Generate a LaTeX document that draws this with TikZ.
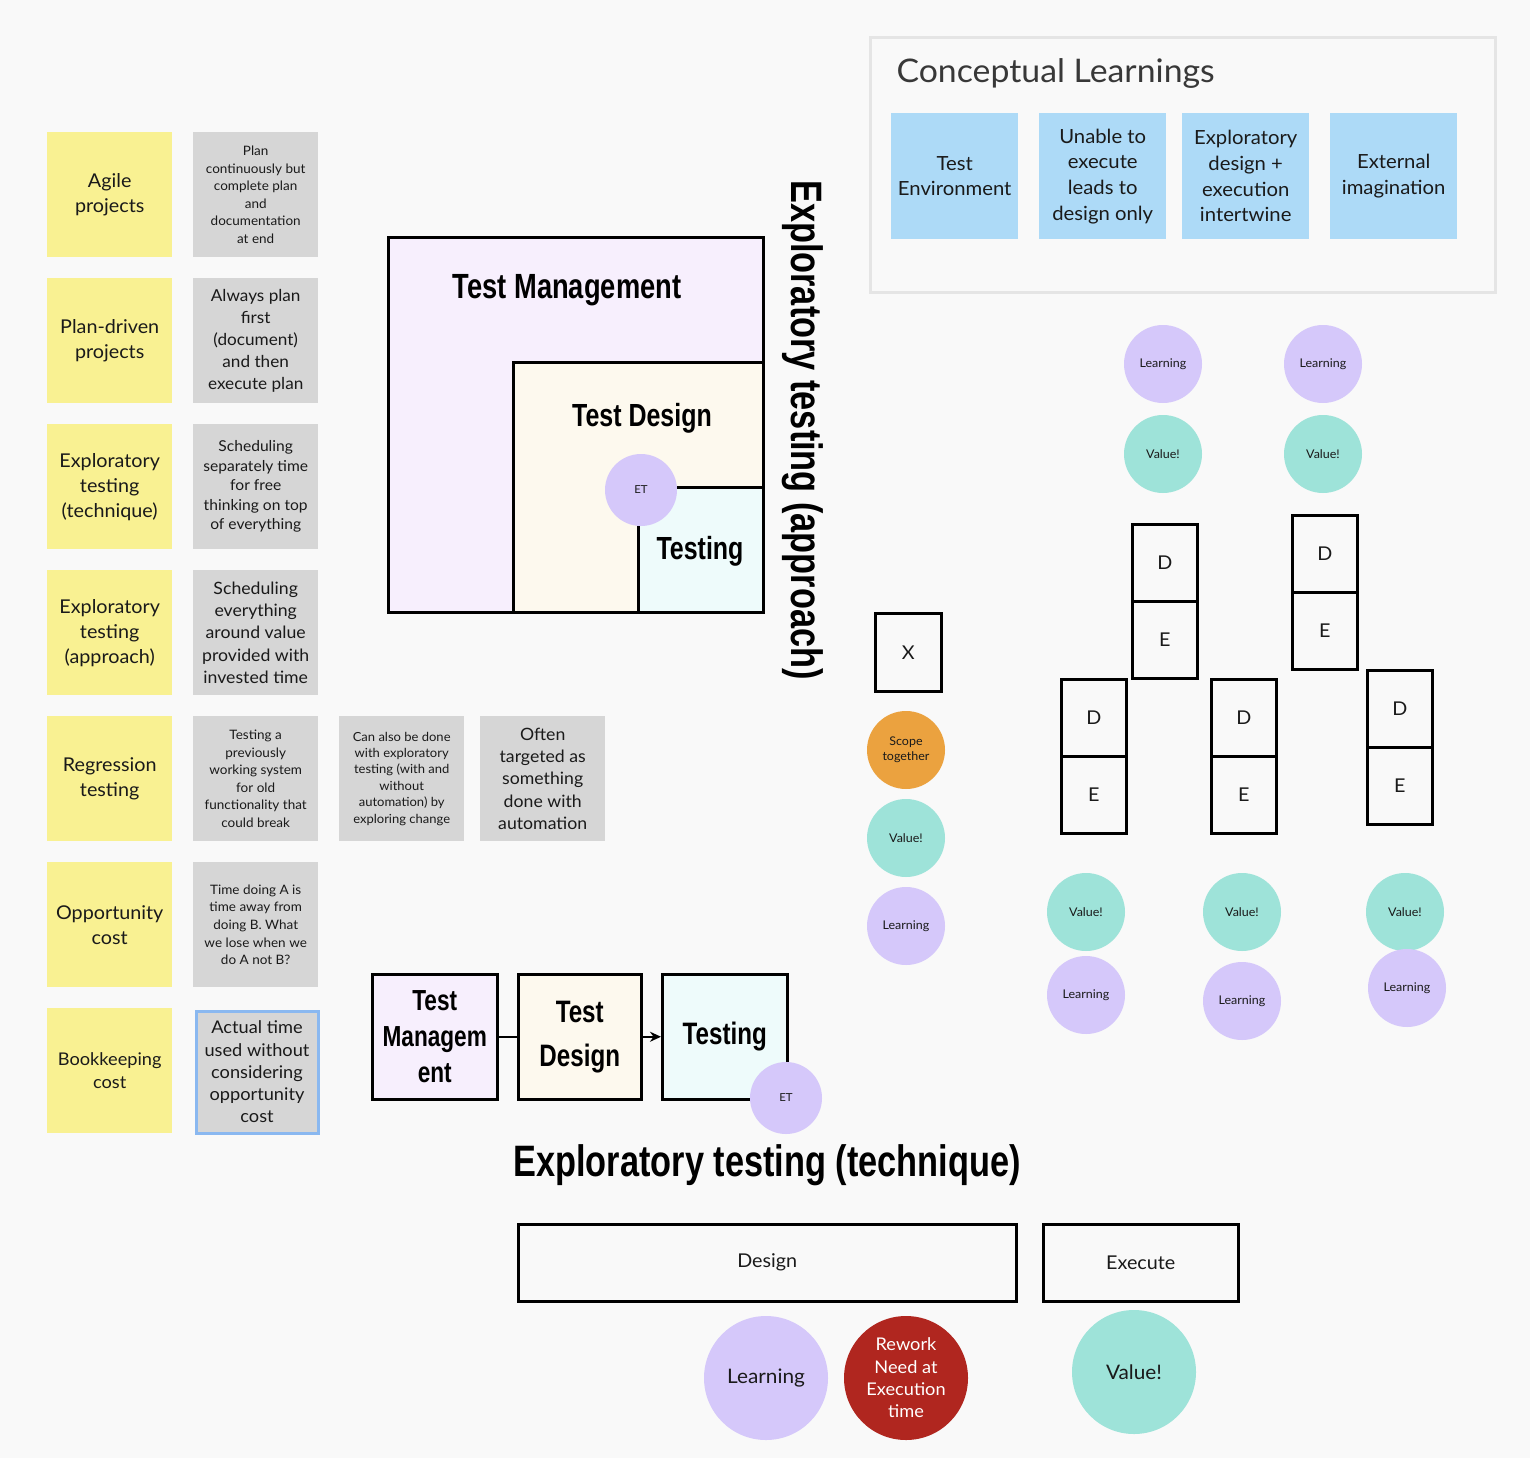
\documentclass[tikz,border=0pt]{standalone}
\usepackage{fontspec}
\setmainfont[FakeStretch=1.04]{Lato}
\newfontfamily\handfont[FakeStretch=0.78]{Liberation Sans}
\usetikzlibrary{arrows.meta}
\definecolor{bgc}{HTML}{F9F9F9}
\definecolor{yel}{HTML}{F9F192}
\definecolor{gry}{HTML}{D6D6D6}
\definecolor{blu}{HTML}{ADDAF7}
\definecolor{lav}{HTML}{D5C8FA}
\definecolor{tea}{HTML}{9EE3D9}
\definecolor{org}{HTML}{EBA23F}
\definecolor{redc}{HTML}{B0261F}
\definecolor{tmf}{HTML}{F7EFFD}
\definecolor{tdf}{HTML}{FDF9EE}
\definecolor{tsf}{HTML}{EEFBFB}
\definecolor{frm}{HTML}{E5E5E5}
\definecolor{selb}{HTML}{8AB8F0}
\definecolor{ink}{HTML}{1A1A1A}
\tikzset{
  sticky/.style={minimum width=125pt, minimum height=125pt, inner sep=0pt, align=center, anchor=north west, text=ink},
  yelnote/.style={sticky, fill=yel, font=\fontsize{19}{25}\selectfont},
  grynote/.style={sticky, fill=gry},
  blunote/.style={minimum width=127pt, minimum height=126pt, inner sep=0pt, align=center, anchor=north west, fill=blu, text=ink, font=\fontsize{19.5}{25.7}\selectfont},
  nest/.style={draw=black, line width=2.5pt, anchor=north west, inner sep=0pt},
  hand/.style 2 args={font=\handfont\bfseries\fontsize{#1}{#2}\selectfont, text=black, align=center},
  dot/.style={circle, minimum size=78pt, inner sep=0pt, align=center, text=ink, font=\fontsize{12}{15}\selectfont},
  lrn/.style={dot, fill=lav},
  val/.style={dot, fill=tea},
  bigdot/.style={circle, minimum size=124pt, inner sep=0pt, align=center, font=\fontsize{20}{22.5}\selectfont},
  debox/.style={draw=black, line width=2.5pt, minimum width=65pt, minimum height=77pt, inner sep=0pt, anchor=north west, font=\fontsize{19}{22}\selectfont, text=ink},
  plainbox/.style={draw=black, line width=2.5pt, inner sep=0pt, anchor=north west, font=\fontsize{19}{22}\selectfont, text=ink},
}
\begin{document}
\begin{tikzpicture}[x=1pt, y=-1pt]
\fill[bgc] (0,0) rectangle (1530,1458);
\useasboundingbox (0,0) rectangle (1530,1458);

% left column
\node[yelnote] (y1) at (47,132) {Agile\\projects};
\node[yelnote] (y2) at (47,278) {Plan-driven\\projects};
\node[yelnote] (y3) at (47,424) {Exploratory\\testing\\(technique)};
\node[yelnote] (y4) at (47,570) {Exploratory\\testing\\(approach)};
\node[yelnote] (y5) at (47,716) {Regression\\testing};
\node[yelnote] (y6) at (47,862) {Opportunity\\cost};
\node[yelnote, font=\fontsize{17.5}{22.5}\selectfont] (y7) at (47,1008) {Bookkeeping\\cost};

\node[grynote, font=\fontsize{13}{17.6}\selectfont] (g1) at (193,132) {Plan\\continuously but\\complete plan\\and\\documentation\\at end};
\node[grynote, font=\fontsize{16.5}{22}\selectfont] (g2) at (193,278) {Always plan\\first\\(document)\\and then\\execute plan};
\node[grynote, font=\fontsize{15}{19.5}\selectfont] (g3) at (193,424) {Scheduling\\separately time\\for free\\thinking on top\\of everything};
\node[grynote, font=\fontsize{17}{22.2}\selectfont] (g4) at (193,570) {Scheduling\\everything\\around value\\provided with\\invested time};
\node[grynote, font=\fontsize{13}{17.6}\selectfont] (g5) at (193,716) {Testing a\\previously\\working system\\for old\\functionality that\\could break};
\node[grynote, font=\fontsize{12.5}{16.4}\selectfont] (g5b) at (339,716) {Can also be done\\with exploratory\\testing (with and\\without\\automation) by\\exploring change};
\node[grynote, font=\fontsize{17}{22.2}\selectfont] (g5c) at (480,716) {Often\\targeted as\\something\\done with\\automation};
\node[grynote, font=\fontsize{13}{17.6}\selectfont] (g6) at (193,862) {Time doing A is\\time away from\\doing B. What\\we lose when we\\do A not B?};
\node[grynote, draw=selb, line width=3pt, minimum width=122pt, minimum height=122pt, font=\fontsize{17.5}{22.3}\selectfont] (g7) at (194.5,1009.5) {Actual time\\used without\\considering\\opportunity\\cost};

% nested boxes
\node[nest, fill=tmf, minimum width=375pt, minimum height=375pt] (tm) at (387,236) {};
\node[nest, fill=tdf, minimum width=250pt, minimum height=250pt] (td) at (512,361) {};
\node[nest, fill=tsf, minimum width=125pt, minimum height=125pt] (ts) at (637,486) {};
\node[hand={35}{40}] (tml) at (567,290) {Test Management};
\node[hand={32}{36}] (tdl) at (642,418) {Test Design};
\node[hand={32}{36}] (tsl) at (700,551) {Testing};
\node[dot, fill=lav, minimum size=72pt, font=\fontsize{11}{13}\selectfont] (et1) at (641,490) {ET};
\node[hand={44}{48}, rotate=-90] (vt) at (803,430) {Exploratory testing (approach)};

% conceptual learnings
\node[draw=frm, line width=3pt, fill=bgc, minimum width=625pt, minimum height=255pt, anchor=north west, inner sep=0pt] (cl) at (869,36) {};
\node[anchor=west, text=black!78, font=\fontsize{32.5}{36}\selectfont] (clt) at (893,73) {Conceptual Learnings};
\node[blunote] (b1) at (891,113) {Test\\Environment};
\node[blunote] (b2) at (1039,113) {Unable to\\execute\\leads to\\design only};
\node[blunote] (b3) at (1182,113) {Exploratory\\design +\\execution\\intertwine};
\node[blunote] (b4) at (1330,113) {External\\imagination};

% right circles top
\node[lrn] (l1) at (1163,364) {Learning};
\node[lrn] (l2) at (1323,364) {Learning};
\node[val] (v1) at (1163,454) {Value!};
\node[val] (v2) at (1323,454) {Value!};

% D/E columns
\node[debox] (da) at (1131,523) {D};
\node[debox] (ea) at (1131,600) {E};
\node[debox] (db) at (1291,514) {D};
\node[debox] (eb) at (1291,591) {E};
\node[debox] (dc) at (1060,678) {D};
\node[debox] (ec) at (1060,755) {E};
\node[debox] (dd) at (1210,678) {D};
\node[debox] (ed) at (1210,755) {E};
\node[debox] (de) at (1366,669) {D};
\node[debox] (ee) at (1366,746) {E};

% X column
\node[debox, minimum width=66pt, minimum height=78pt] (xb) at (874,612) {X};
\node[dot, fill=org] (sc) at (906,750) {Scope\\together};
\node[val] (v3) at (906,838) {Value!};
\node[lrn] (l3) at (906,926) {Learning};

% lower circles
\node[val] (v4) at (1086,912) {Value!};
\node[lrn] (l4) at (1086,995) {Learning};
\node[val] (v5) at (1242,912) {Value!};
\node[lrn] (l5) at (1242,1001) {Learning};
\node[val] (v6) at (1405,912) {Value!};
\node[lrn] (l6) at (1407,988) {Learning};

% bottom flow
\node[nest, fill=tmf, minimum width=125pt, minimum height=125pt] (btm) at (371,973) {};
\node[nest, fill=tdf, minimum width=123pt, minimum height=125pt] (btd) at (517,973) {};
\node[nest, fill=tsf, minimum width=125pt, minimum height=125pt] (bts) at (661,973) {};
\node[hand={29}{36}] (btml) at (btm.center) {Test\\Managem\\ent};
\node[hand={31}{44}] (btdl) at (btd.center) {Test\\Design};
\node[hand={31}{36}] (btsl) at (bts.center) {Testing};
\draw[line width=2.5pt] (btm.east) -- (btd.west);
\draw[line width=2.5pt, -{Stealth[length=11pt, width=10pt]}] (btd.east) -- (bts.west);
\node[dot, fill=lav, minimum size=72pt, font=\fontsize{11}{13}\selectfont] (et2) at (786,1098) {ET};

\node[hand={44}{50}] (ett) at (767,1165) {Exploratory testing (technique)};

\node[plainbox, minimum width=498pt, minimum height=77pt] (des) at (517,1223) {Design};
\node[plainbox, minimum width=195pt, minimum height=77pt] (exe) at (1042,1223) {Execute};
\node[bigdot, fill=lav, text=ink] (bl) at (766,1378) {Learning};
\node[bigdot, fill=redc, text=white, font=\fontsize{17.5}{22.3}\selectfont] (br) at (906,1378) {Rework\\Need at\\Execution\\time};
\node[bigdot, fill=tea, text=ink] (bv) at (1134,1372) {Value!};
\end{tikzpicture}
\end{document}
